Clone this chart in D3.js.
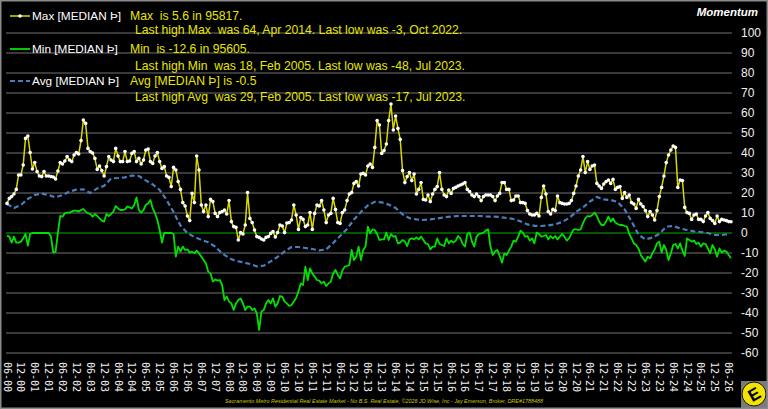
<!DOCTYPE html>
<html>
<head>
<meta charset="utf-8">
<script src="https://cdnjs.cloudflare.com/ajax/libs/d3/7.8.5/d3.min.js"></script>
<style>
html, body { margin: 0; padding: 0; background: #000; }
svg { display: block; }
</style>
</head>
<body>
<svg id="chart" width="768" height="409"></svg>
<script>
"use strict";

// Monthly values, Jun 2000 onwards
var maxVals = [
  14.8, 17.3, 18.2, 19.5, 21.8, 29, 29, 34, 47.3, 48.5,
  40.2, 32, 35.2, 30.7, 28.5, 28.2, 30.7, 28.5, 28.5, 28.2,
  28, 27, 31, 35.2, 34.5, 36, 38.2, 36.5, 35.7, 39,
  40.2, 39.5, 46.2, 56.5, 54.8, 42.3, 40.7, 40, 37.3, 31.8,
  33.5, 31.2, 28.5, 33.2, 38.2, 36.5, 35.7, 42.3, 38.5, 35.7,
  35.7, 40.7, 35.7, 36, 39.8, 40.7, 35.7, 37.3, 34.5, 36.5,
  41.5, 42,
  35.7, 34.8, 38.5, 40.2, 35.7, 32.3, 33.2, 28.5, 27.8, 23.2,
  32.8, 31.5, 25.7, 21.8, 15.2, 13.5, 8.5, 6.2, 19.8, 15.2,
  38.5, 31.5, 14, 10.7, 14, 8.2, 16.8, 15.7, 9.8, 8.2,
  10.2, 10.7, 11.5, 9.5, 16.2, 5.7, 3.2, 2.8,
  -3.5, 0.2, -0.5, 4, 20.2, 7.3, 5.2, 1.5, -1.8, -2.2,
  -3, -3.5, -2.2, -1.8, -0.2, 0.7, -2, 0.2, 4, 3.5,
  0.2, 5, 5.2, 6.5, 14,
  9, 1.8, 7.7, 6.8, 3.2, 4, 10.2, 1.8, 9.8, 14,
  13.5, 16.2, 11.5, 5.2, 9, 9.8, 17.3, 11.8, 5.2, 4.8,
  10.2, 11.5, 16.2, 19.5, 20.2, 24.8, 25.7, 23.5, 29.5, 29.8,
  29, 33.5, 34.5, 32.8, 42.8, 56.2, 54, 39.8, 41.2, 44.5,
  56.2, 64.5, 51.5, 58.5, 52.3, 46.8, 31.2, 25.2, 28.2, 30.2,
  26.2, 29.5, 19.5, 21.8, 25.2, 16.8, 16.5, 19, 15.7, 19.5,
  21.8, 23.2, 30.2, 21.8, 19, 18.2, 21.5, 19.8, 22.3, 22.8,
  23.5, 24, 24.5, 25.2, 21.8, 20.7, 19, 18.2, 19.5, 18.2,
  16.2, 18.2, 19, 19, 19, 18.2, 16.2, 18.5, 19.8, 25.2,
  25.2, 21.8, 21.8, 16.2, 16.5, 18.5, 18.5, 15.2, 15.2, 14.8,
  11.2, 9.5, 9, 9, 9.8, 8.5, 17.8, 23.5, 19.5, 10.7,
  9.5, 11.8, 11.2, 18.5, 15.2, 14.8, 14.5, 14.5, 14.8, 16.2,
  19.8, 23.5,
  28.5, 31.5, 38.2, 30.2, 35.7, 31.8, 33.5, 34, 24.8, 23.5,
  22.3, 24.5, 25.7, 26.5, 24.8, 26.8, 21.8, 22.8, 23.2, 17.3,
  20.2, 17.8, 19, 15.2, 14.5, 12.3, 16.8, 14.5, 13.2, 11.2,
  8.2, 10.7, 9, 6.5, 11.2, 18.2, 22.8, 28.5, 35.2, 39,
  41.5, 43.5, 42.8, 22.8, 26.5, 26.2, 12.8, 10.2, 9.8, 6.8,
  9, 9.5, 6.8, 6.8, 5.7, 8.5, 10.2, 7.3, 6.2, 4.8,
  8.5, 5.7, 6.8, 6.5, 6.2, 5.7, 5.6
];

var minVals = [
  -1.3, -1.8, -4.8, -1.8, -4.8, -4.8, -4.3, -2.7, -0.5, -6.3,
  -0.5, 0, 0, 0, 0, 0, 0, 0, 0, -1.8,
  -9.8, -9.3, 0, 8.5, 8.2, 9.8, 10.2, 10.2, 10.7, 11.2,
  11.2, 10.7, 11.5, 12, 10.7, 9.8, 9.5, 8.2, 9.5, 8.5,
  7.3, 6.2, 5.7, 9.5, 8.5, 9.5, 10.7, 13.5, 12.3, 11.5,
  11.5, 11.8, 13.2, 12.8, 12.3, 14, 17.8, 11.5, 10.2, 11.5,
  14, 14.8,
  16.5, 12.3, 9.8, 6.5, 1.5, -4.8, 0, 0, 0, 0,
  -0.5, -11.8, -6.8, -9.3, -6.8, -8.5, -8.2, -9.8, -9.3, -10.2,
  -8.8, -10.2, -11.8, -13.5, -15.2, -19.3, -20.2, -24.3, -23.2, -23.8,
  -23.5, -26, -33.5, -31.8, -34.3, -35.2, -38.5, -35.2, -33.5, -32.7,
  -35.2, -38.5, -36.8, -36.8, -38.5, -37.7, -40.2, -48.5, -39.3, -38.5,
  -35.2, -33.5, -35.2, -32.7, -36.8, -35.2, -31.5, -31.8, -34.3, -35.2,
  -36.5, -36, -34.2,
  -32.5, -29.2, -25.2, -26, -16.8, -23.5, -17.7, -20.2, -21.8, -23.5,
  -23.8, -25.2, -24.3, -26.5, -25.2, -24.3, -20.2, -18.5, -21, -22.7,
  -18.8, -16.8, -16.5, -16, -8.5, -13.5, -11.8, -6.8, -13.5, -8.5,
  -6.8, 3.2, -0.2, 1.8, 1.5, -0.5, -3.5, -3.2, -3.2, 0.2,
  -3.5, -0.5, -1.8, -1.5, -5.2, -4.8, -3.5, -4.3, -6.5, -3.2,
  -2.7, -3.2, -2.2, -3.2, -1.8, -3.5, -5.2, -5.5, -8.2, -6.8,
  -6.8, -2.7, -5.5, -6, -6.5, -2.7, -5.2, -3.8, -4.8, -3.8,
  -1.5, -2.7, -5.5, -6.8, -0.5, 0.2, -4.3, -6.8, -1.8, -0.5,
  -0.2, 0.2, 1.2, 1.8, -6.8, -11, -9.3, -8.5, -11.5, -14.8,
  -10.2, -11, -8.8, -6.8, -3.8, -4.3, -1.8, 1.2, 0.2, -1.8,
  -1.5, -3.8, -2.7, -5.2, 0.2, -0.5, -1.8, -1.5, -1, -3.2,
  -1.5, -2.7, -1.5, -3.2, -1.8, -0.5, -1.8, -3.8, -2.7, -0.2,
  1.8, 1.8, 1.5,
  1.8, 4.8, 7.3, 8.5, 8.2, 9, 10.2, 8.5, 5.7, 4,
  4, 5.7, 8.2, 5.7, 7.3, 5.2, 4.5, 4, 4, 3.5,
  3.2, -0.5, -2.7, -5.2, -6, -7.7, -11, -12.7, -14.3, -11.8,
  -12.7, -10.2, -8.2, -5.2, -4.3, -9.8, -6, -8.5, -13.5, -10.2,
  -6, -5.5, -7.7, -5.2, -8.8, -11.5, -2.7, -3.5, -4.3, -3.8,
  -5.5, -4.8, -6.8, -5.2, -5.5, -7.7, -10.2, -6, -8.2, -11.8,
  -7.7, -9.8, -8.8, -9.3, -11, -12.6
];

// Avg read every third month
var avgStep = 3;
var avgVals = [
  14.5, 12.5, 14, 17, 19, 19.7, 19, 17.8, 19, 20.7,
  21.7, 21.8, 20, 22.3, 23.6, 27.3, 27.5, 27.8, 28.7, 28.5,
  26.3, 24.3, 21.5, 16.5, 10.5, 3.7, 0, -2, -3.5, -4.6,
  -6.8, -10.2, -12.5, -14, -14.6, -15.5, -16.7, -16.3, -14.2, -11.9,
  -9.2, -7, -7, -7.5, -8, -8.7, -8.2, -5, -1.5, 2,
  6.8, 10.5, 13.8, 15.6, 15.3, 14.2, 12.5, 9.3, 7.4, 6.8,
  6.5, 6.8, 7.3, 7.8, 8.2, 8.5, 8.5, 8.5, 8.5, 8.3,
  8.2, 8, 7.5, 7, 5.8, 4.3, 3.6, 3.5, 3.8, 4.3,
  5.5, 7.5, 10.5, 12.8, 15.7, 18, 16.8, 16.5, 15.5, 11.8,
  5.8, -0.8, -3.2, -2.3, -0.5, 3.2, 3.5, 2.3, 1.5, 0.8,
  0.5, 0, -1, -1, -0.5
];

// one label every 6 months
var xLabels = [
  "06-00", "12-00", "06-01", "12-01", "06-02", "12-02", "06-03", "12-03",
  "06-04", "12-04", "06-05", "12-05", "06-06", "12-06", "06-07", "12-07",
  "06-08", "12-08", "06-09", "12-09", "06-10", "12-10", "06-11", "12-11",
  "06-12", "12-12", "06-13", "12-13", "06-14", "12-14", "06-15", "12-15",
  "06-16", "12-16", "06-17", "12-17", "06-18", "12-18", "06-19", "12-19",
  "06-20", "12-20", "06-21", "12-21", "06-22", "12-22", "06-23", "12-23",
  "06-24", "12-24", "06-25", "12-25", "06-26"
];
var yTicks = [-60, -50, -40, -30, -20, -10, 0, 10, 20, 30, 40, 50, 60, 70, 80, 90, 100];

var legendItems = [
  { name: "Max [MEDIAN \u00de]", now: "Max  is 5.6 in 95817.", hist: "Last high Max  was 64, Apr 2014. Last low was -3, Oct 2022." },
  { name: "Min [MEDIAN \u00de]", now: "Min  is -12.6 in 95605.", hist: "Last high Min  was 18, Feb 2005. Last low was -48, Jul 2023." },
  { name: "Avg [MEDIAN \u00de]", now: "Avg [MEDIAN \u00de] is -0.5", hist: "Last high Avg  was 29, Feb 2005. Last low was -17, Jul 2023." }
];
var footerText = "Sacramento Metro Residential Real Estate Market - No B.S. Real Estate, \u00a92026 JD Wise, Inc - Jay Emerson, Broker, DRE#1788488";

var svg = d3.select("#chart");
var width = 768, height = 409;
var plotLeft = 7, plotRight = 731;

var x = d3.scaleLinear().domain([0, maxVals.length - 1]).range([plotLeft, plotRight]);
var y = d3.scaleLinear().domain([-60, 100]).range([353, 33]);

svg.append("rect").attr("width", width).attr("height", height).attr("fill", "#000");

// gridlines
svg.append("g").selectAll("line").data(yTicks.filter(function (d) { return d !== 0; }))
  .enter().append("line")
  .attr("x1", plotLeft - 1).attr("x2", plotRight + 1)
  .attr("y1", function (d) { return y(d); }).attr("y2", function (d) { return y(d); })
  .attr("stroke", "#4d4d4d").attr("stroke-width", 1.3);

svg.append("line")
  .attr("x1", plotLeft - 1).attr("x2", plotRight + 1)
  .attr("y1", y(0)).attr("y2", y(0))
  .attr("stroke", "#00b000").attr("stroke-width", 1.2);

// y labels on the right
svg.append("g").selectAll("text").data(yTicks)
  .enter().append("text")
  .attr("x", 741).attr("y", function (d) { return y(d); })
  .attr("dy", "0.35em")
  .attr("fill", "#f0f0f0")
  .style("font", "12px 'Liberation Sans', Arial, sans-serif")
  .text(function (d) { return d; });

// x labels, rotated
svg.append("g").selectAll("text").data(xLabels)
  .enter().append("text")
  .attr("transform", function (d, i) { return "translate(" + x(i * 6) + ",362) rotate(90)"; })
  .attr("dy", "0.35em")
  .attr("fill", "#f0f0f0")
  .style("font", "10px 'DejaVu Sans Mono', monospace")
  .text(function (d) { return d; });

// series
var avgLine = d3.line()
  .x(function (d, i) { return x(i * avgStep); })
  .y(function (d) { return y(d); });
var monthLine = d3.line()
  .x(function (d, i) { return x(i); })
  .y(function (d) { return y(d); });

svg.append("path").datum(avgVals)
  .attr("d", avgLine)
  .attr("fill", "none").attr("stroke", "#4a7ebb").attr("stroke-width", 2.2)
  .attr("stroke-dasharray", "5,3");

svg.append("path").datum(minVals)
  .attr("d", monthLine)
  .attr("fill", "none").attr("stroke", "#00e000").attr("stroke-width", 1.8)
  .attr("stroke-linejoin", "round");

svg.append("path").datum(maxVals)
  .attr("d", monthLine)
  .attr("fill", "none").attr("stroke", "#d8d800").attr("stroke-width", 1.5)
  .attr("stroke-linejoin", "round");

svg.append("g").selectAll("circle").data(maxVals)
  .enter().append("circle")
  .attr("cx", function (d, i) { return x(i); })
  .attr("cy", function (d) { return y(d); })
  .attr("r", 1.8)
  .attr("fill", "#fff");

// legend
var legendY = [16, 49, 81];
var histY = [30, 66, 97];
var legend = svg.append("g");

legend.append("line").attr("x1", 10).attr("x2", 30).attr("y1", legendY[0]).attr("y2", legendY[0])
  .attr("stroke", "#d8d800").attr("stroke-width", 1.5);
legend.append("circle").attr("cx", 20).attr("cy", legendY[0]).attr("r", 1.8).attr("fill", "#fff");
legend.append("line").attr("x1", 10).attr("x2", 30).attr("y1", legendY[1]).attr("y2", legendY[1])
  .attr("stroke", "#00e000").attr("stroke-width", 1.8);
legend.append("line").attr("x1", 10).attr("x2", 30).attr("y1", legendY[2]).attr("y2", legendY[2])
  .attr("stroke", "#4a7ebb").attr("stroke-width", 2).attr("stroke-dasharray", "5,3");

legendItems.forEach(function (item, i) {
  legend.append("text")
    .attr("x", 32).attr("y", legendY[i]).attr("dy", "0.35em")
    .attr("fill", "#fff")
    .style("font", "11.8px 'Liberation Sans', Arial, sans-serif")
    .style("white-space", "pre")
    .text(item.name);
  legend.append("text")
    .attr("x", 130).attr("y", legendY[i]).attr("dy", "0.35em")
    .attr("fill", "#e6e600")
    .style("font", "12.2px 'Liberation Sans', Arial, sans-serif")
    .style("white-space", "pre")
    .text(item.now);
  legend.append("text")
    .attr("x", 135).attr("y", histY[i]).attr("dy", "0.35em")
    .attr("fill", "#e6e600")
    .style("font", "12.2px 'Liberation Sans', Arial, sans-serif")
    .style("white-space", "pre")
    .text(item.hist);
});

svg.append("text")
  .attr("x", 758).attr("y", 12).attr("dy", "0.35em")
  .attr("text-anchor", "end")
  .attr("fill", "#fff")
  .style("font", "italic bold 11.5px 'Liberation Sans', Arial, sans-serif")
  .text("Momentum");

svg.append("text")
  .attr("x", 384).attr("y", 401).attr("dy", "0.35em")
  .attr("text-anchor", "middle")
  .attr("fill", "#c8c800")
  .attr("textLength", 318).attr("lengthAdjust", "spacingAndGlyphs")
  .style("font", "italic 6px 'Liberation Sans', Arial, sans-serif")
  .text(footerText);

// logo
var logo = svg.append("g").attr("transform", "translate(754,394)");
logo.append("rect").attr("x", -13).attr("y", -13).attr("width", 27).attr("height", 27).attr("fill", "#7a7a7a");
logo.append("circle").attr("r", 12).attr("fill", "#f2e400").attr("stroke", "#111").attr("stroke-width", 1);
logo.append("text")
  .attr("transform", "rotate(-30)")
  .attr("text-anchor", "middle").attr("dy", "0.36em")
  .attr("fill", "#000")
  .style("font", "bold 17px 'Liberation Sans', Arial, sans-serif")
  .text("E");

// frame
svg.append("rect").attr("x", 0.75).attr("y", 0.75).attr("width", width - 1.5).attr("height", height - 1.5)
  .attr("fill", "none").attr("stroke", "#8a8a8a").attr("stroke-width", 1.5);
</script>
</body>
</html>
